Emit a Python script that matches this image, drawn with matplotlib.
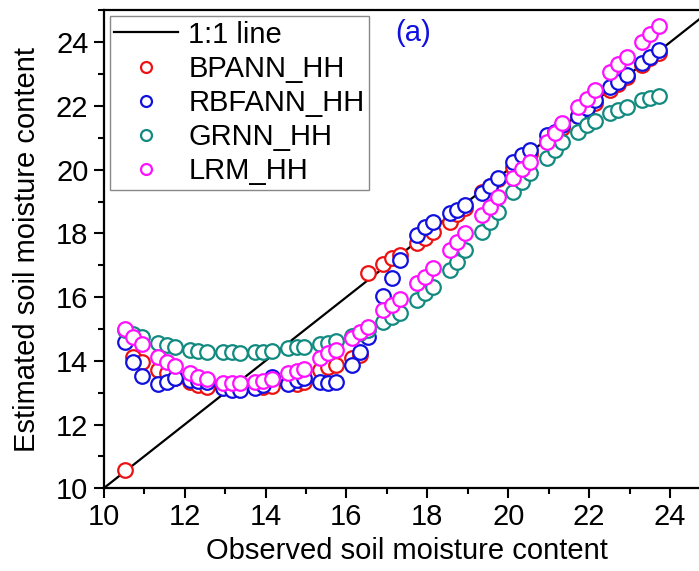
# -*- coding: utf-8 -*-
# 观测 vs 估算土壤水分 (HH 极化) 散点图
import numpy as np
import matplotlib
matplotlib.use('Agg')
import matplotlib.pyplot as plt
from matplotlib.ticker import MultipleLocator

plt.rcParams['font.family'] = ['Liberation Sans', 'DejaVu Sans']

# ============================================================
# 数据
# ============================================================
observed = [10.53, 10.72, 10.95, 11.34, 11.56, 11.76, 12.13, 12.33, 12.55,
            12.95, 13.17, 13.37, 13.74, 13.94, 14.16, 14.56, 14.78, 14.95,
            15.35, 15.55, 15.74, 16.14, 16.34, 16.54, 16.90, 17.13, 17.33,
            17.75, 17.94, 18.14, 18.56, 18.73, 18.93, 19.35, 19.55, 19.75,
            20.12, 20.34, 20.54, 20.96, 21.16, 21.33, 21.73, 21.95, 22.14,
            22.51, 22.71, 22.94, 23.31, 23.51, 23.73]

bpann = [10.57, 14.12, 13.96, 13.71, 13.62, 13.46, 13.33, 13.24, 13.18,
         13.18, 13.15, 13.15, 13.18, 13.18, 13.21, 13.30, 13.27, 13.33,
         13.71, 13.81, 13.87, 14.09, 14.18, 16.76, 17.04, 17.23, 17.32,
         17.70, 17.86, 18.04, 18.36, 18.60, 18.80, 19.30, 19.50, 19.70,
         20.10, 20.30, 20.50, 20.90, 21.10, 21.30, 21.70, 21.90, 22.10,
         22.50, 22.70, 22.90, 23.30, 23.50, 23.65]

rbfann = [14.59, 13.96, 13.52, 13.27, 13.33, 13.46, 13.40, 13.37, 13.33,
          13.15, 13.08, 13.08, 13.15, 13.24, 13.49, 13.27, 13.40, 13.46,
          13.33, 13.30, 13.33, 13.87, 14.28, 14.75, 16.04, 16.60, 17.17,
          17.95, 18.20, 18.36, 18.64, 18.73, 18.89, 19.27, 19.49, 19.74,
          20.24, 20.46, 20.62, 21.09, 21.18, 21.40, 21.69, 21.94, 22.19,
          22.60, 22.75, 22.97, 23.35, 23.54, 23.76]

grnn = [14.97, 14.84, 14.75, 14.56, 14.50, 14.43, 14.34, 14.31, 14.28,
        14.28, 14.28, 14.25, 14.28, 14.28, 14.31, 14.40, 14.43, 14.43,
        14.53, 14.56, 14.62, 14.78, 14.87, 14.97, 15.22, 15.38, 15.50,
        15.91, 16.13, 16.32, 16.85, 17.10, 17.48, 18.04, 18.36, 18.67,
        19.30, 19.61, 19.90, 20.37, 20.62, 20.87, 21.18, 21.40, 21.53,
        21.78, 21.87, 21.97, 22.19, 22.25, 22.31]

lrm = [15.00, 14.75, 14.53, 14.12, 13.96, 13.84, 13.62, 13.49, 13.43,
       13.30, 13.30, 13.30, 13.33, 13.37, 13.43, 13.62, 13.68, 13.74,
       14.09, 14.25, 14.34, 14.72, 14.90, 15.06, 15.60, 15.75, 15.94,
       16.44, 16.63, 16.91, 17.48, 17.73, 18.01, 18.58, 18.83, 19.14,
       19.74, 20.02, 20.24, 20.87, 21.15, 21.47, 21.97, 22.22, 22.50,
       23.07, 23.32, 23.54, 24.01, 24.26, 24.51]

series = [('BPANN_HH', bpann, '#ee1111'),
          ('RBFANN_HH', rbfann, '#1010e0'),
          ('GRNN_HH', grnn, '#128a80'),
          ('LRM_HH', lrm, '#ff10ff')]

# ============================================================
# 绘图
# ============================================================
fig = plt.figure(figsize=(6.99, 5.71), dpi=100)
ax = fig.add_axes([0.1484, 0.145, 0.868, 0.8367])

ax.plot([10, 25], [10, 25], color='black', lw=1.6, label='1:1 line', zorder=1)
for name, vals, col in series:
    ax.plot(observed, vals, linestyle='none', marker='o', ms=10.5,
            mfc='white', mec=col, mew=1.6, label=name, zorder=2)

ax.set_xlim(10, 25)
ax.set_ylim(10, 25)
ax.xaxis.set_major_locator(MultipleLocator(2))
ax.xaxis.set_minor_locator(MultipleLocator(1))
ax.yaxis.set_major_locator(MultipleLocator(2))
ax.yaxis.set_minor_locator(MultipleLocator(1))
ax.tick_params(which='major', length=7, width=1.5, labelsize=21, pad=4)
ax.tick_params(which='minor', length=4, width=1.5)
for s in ax.spines.values():
    s.set_linewidth(1.6)

ax.set_xlabel('Observed soil moisture content', fontsize=21, labelpad=4)
ax.set_ylabel('Estimated soil moisture content', fontsize=21, labelpad=11)

ax.text(17.2, 24.3, '(a)', color='#1010e0', fontsize=21, va='center')

leg = ax.legend(loc='upper left', bbox_to_anchor=(0.0, 1.0), fontsize=21,
                markerscale=0.75, handlelength=2.2, handletextpad=0.35,
                labelspacing=0.21, borderpad=0.15, borderaxespad=0.2,
                fancybox=False, framealpha=1)
leg.get_frame().set_edgecolor('#888888')
leg.get_frame().set_linewidth(1.0)

plt.savefig('out.png', dpi=100)
plt.close()
